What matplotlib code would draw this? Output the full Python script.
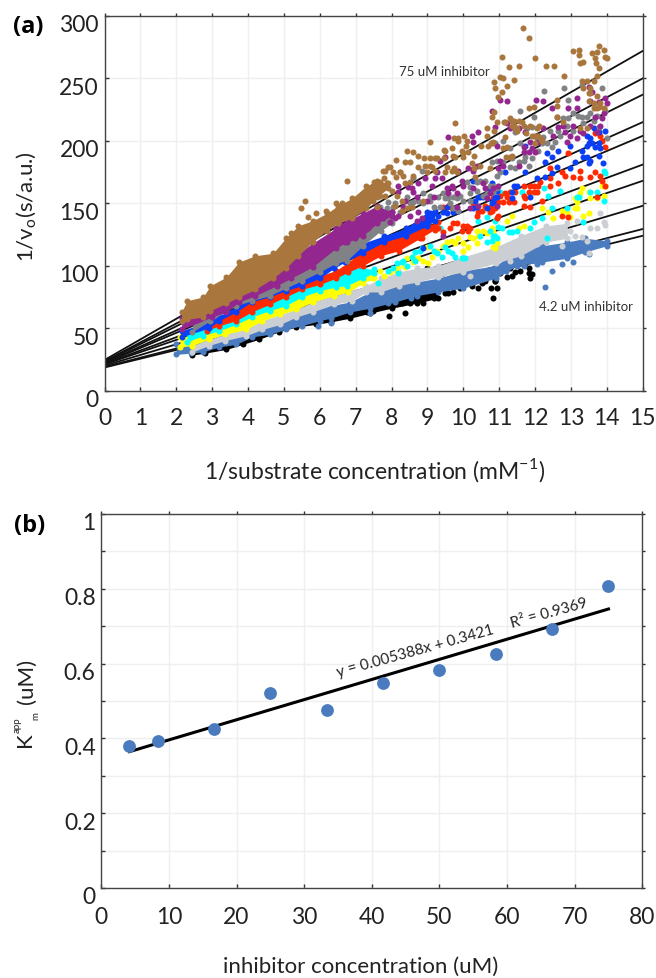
import matplotlib
matplotlib.use('Agg')
import matplotlib.pyplot as plt
from matplotlib.transforms import ScaledTranslation

plt.rcParams['font.family'] = ['Lato', 'DejaVu Sans']
plt.rcParams['mathtext.fontset'] = 'custom'
plt.rcParams['mathtext.rm'] = 'Lato'

# fit lines panel (a), value at x=0 and x=15, lowest inhibitor first
line_start = [18.5, 19, 20, 21, 21.5, 22, 22.5, 23, 23.5, 24.5]
line_end = [124, 129.4, 148, 168, 181, 204, 215, 237, 250, 272]

# each series: dense part (band) and the loose points
black_band_x = [2.45, 2.8, 3.4, 3.85, 4.3, 4.85, 5.35, 5.9, 6.3, 6.85, 7.4, 8, 8.7, 9.3]
black_band_lo = [28.5, 30, 33, 37, 41, 47, 51, 53, 55, 58, 62, 66, 70, 74]
black_band_hi = [33, 34, 37, 42, 46, 52, 56, 60, 62, 68, 72, 76, 82, 86]
black_x = [7.94, 8.38, 8.28, 8.51, 8.72, 8.89, 9.17, 9.58, 9.49, 9.72, 9.91, 10.23, 10.42, 10.51, 10.6, 10.84, 10.76, 10.93,
           10.88, 8.47, 8.98, 9.44, 7.49, 7.31, 7.12, 6.89, 6.66, 7.63, 7.86, 10.89, 11.21, 11.35, 11.12, 11.82, 11.91, 11.82,
           11.86, 11.72, 11.59, 11.45, 11.31, 10.8, 11.03, 10.98, 11.86, 10.3, 10.15, 9.8]
black_y = [60, 62, 70, 70, 71, 70, 74, 78, 78, 79, 82, 84, 82, 86, 88, 74, 82, 82,
           88, 86, 98, 94, 64, 63, 63, 63, 62, 70, 72, 88, 91, 92, 99, 94, 93, 98,
           106, 102, 96, 95, 98, 92, 94, 99, 90, 92, 90, 94]

sblue_band_x = [2, 2.4, 2.75, 3.2, 3.67, 4.1, 4.6, 5.05, 5.5, 6, 6.3, 6.85, 7.4, 8.1, 8.7, 9.3, 10, 10.9, 11.5, 12.2, 12.9, 13.4, 14]
sblue_band_lo = [29, 30, 31, 35, 37, 43, 45, 49, 52, 56, 58, 63, 66, 71, 76, 79, 82, 90, 100, 103, 106, 111, 116]
sblue_band_hi = [37, 37, 38, 42, 45, 49, 54, 59, 62, 66, 68, 71, 79, 84, 87, 90, 96, 100, 112, 116, 119, 122, 120]
sblue_x = [12.28, 12.47, 12.75, 13.07, 13.49, 11.2, 11.7, 5.95, 6.3, 7.4, 7.9, 8.55, 9.3, 12.05]
sblue_y = [83, 96, 101, 103, 109, 96, 100, 52, 54, 62, 70, 74, 86, 101]

lgray_band_x = [2.45, 2.9, 3.35, 3.95, 4.4, 4.9, 5.35, 5.8, 6.4, 6.9, 7.3, 7.7, 8.2, 8.7, 9.3, 10, 10.9, 11.6, 12.3, 12.9]
lgray_band_lo = [31, 36, 40, 44, 49, 53, 59, 63, 69, 72, 79, 79, 84, 87, 91, 95, 102, 108, 119, 122]
lgray_band_hi = [36, 41, 45, 50, 56, 61, 65, 71, 76, 80, 84, 90, 95, 98, 100, 107, 115, 124, 132, 134]
lgray_x = [13.3, 13.53, 13.82, 13.91, 13.17, 13.44, 13.72, 13.49, 12.98, 4.74, 13.95, 13.1, 10.2, 11.3, 12.75]
lgray_y = [123, 130, 142, 135, 136, 120, 130, 110, 128, 56, 133, 124, 92, 104, 116]

yellow_band_x = [2.1, 2.45, 2.9, 3.35, 3.95, 4.4, 4.9, 5.35, 5.8, 6.4, 6.8, 7.2, 7.5]
yellow_band_lo = [35, 36, 41, 45, 49, 56, 61, 65, 71, 76, 79, 86, 90]
yellow_band_hi = [43, 44, 50, 56, 60, 66, 72, 77, 82, 84, 87, 92, 93]
yellow_x = [13.86, 13.95, 13.91, 13.5, 13.54, 13.72, 13.1, 13.17, 13.1, 13.17, 12.89, 12.75, 12.98, 12.51, 12.19, 12.37, 13.35,
            13.49, 13.26, 13.3, 11.68, 11.54, 11.21, 11.35, 10.89, 10.8, 10.37, 10.56, 10.65, 10.28, 10.37, 10.14, 10, 9.86,
            9.68, 9.54, 9.3, 9.12, 8.89, 9.02, 9.17, 10.93, 10.84, 8.19, 8.42, 7.68, 7.96, 8.98, 7.45, 7.8,
            8.14, 8.38, 8.61, 8.75, 9.26, 9.44, 9.77, 10, 10.19, 10.42, 10.84, 8.61]
yellow_y = [164, 164, 156, 159, 154, 154, 154, 151, 146, 146, 143, 144, 139, 138, 146, 143, 140,
            142, 158, 162, 132, 130, 136, 140, 114, 130, 128, 128, 126, 122, 118, 115, 112, 122,
            120, 119, 111, 107, 104, 102, 112, 118, 115, 99, 106, 96, 95, 115, 90, 92,
            95, 99, 103, 106, 112, 116, 118, 118, 123, 124, 127, 107]

cyan_band_x = [2.3, 2.75, 3.2, 3.67, 4.1, 4.6, 5.05, 5.5, 6, 6.45, 6.75, 7.2, 7.5]
cyan_band_lo = [39, 44, 48, 53, 59, 64, 68, 75, 80, 83, 84, 90, 94]
cyan_band_hi = [46, 52, 56, 63, 71, 76, 81, 85, 92, 96, 98, 98, 97]
cyan_x = [13.91, 13.95, 13.91, 13.72, 13.54, 13.17, 13.23, 12.9, 12.47, 11.03, 11.63, 11.96, 12.19, 13.35, 12.37, 11.86, 11.49,
          11.35, 11.26, 11.07, 10.98, 10.8, 10.89, 12.7, 12.24, 12.33, 7.63, 8.19, 7.91, 8.42, 8.65, 8.79, 8.56, 8.28, 9.4,
          9.58, 9.77, 9.95, 10.05, 10.42, 10.65, 10.88, 10.84, 10.65, 10.93, 9.35, 8.65, 9.17, 8.14,
          8.05, 8.33, 8.84, 9.07, 9.26, 9.49, 9.68, 10.46, 10.75]
cyan_y = [176, 174, 152, 159, 159, 155, 155, 146, 146, 159, 159, 135, 138, 135, 156, 130, 128,
          127, 127, 130, 131, 120, 124, 160, 162, 122, 86, 94, 96, 100, 111, 112, 107, 103, 107,
          112, 107, 106, 106, 136, 139, 136, 124, 119, 122, 130, 104, 112, 102,
          98, 104, 114, 116, 110, 115, 110, 124, 128]

red_band_x = [2.85, 3.2, 3.67, 4.1, 4.6, 5.05, 5.5, 6, 6.45, 6.8, 7.2, 7.7, 8.2, 8.8, 9.2]
red_band_lo = [48, 52, 56, 63, 69, 75, 81, 85, 90, 95, 100, 108, 112, 122, 129]
red_band_hi = [52, 57, 64, 72, 76, 81, 85, 92, 96, 103, 112, 120, 123, 130, 132]
red_x = [13.95, 13.86, 13.68, 13.82, 12.93, 12.42, 12.75, 12.84, 13.26, 13.07, 13.68, 13.82, 13.86, 13.54, 13.26, 12.65, 12.42,
         12.14, 11.96, 11.82, 12.05, 11.72, 12.19, 11.86, 11.68, 11.45, 11.17, 11.03, 11.12, 11.26, 10.98, 10.8, 13.95, 13.72,
         12.75, 12.93, 9.44, 9.68, 10, 9.82, 9.63, 9.3, 9, 10.19, 10.37, 10.75, 10.84, 10.6, 10.93, 10.28, 9.44,
         9.58, 9.3, 9.12, 8.84, 9.72, 9.95, 10.09, 10.14, 10.51, 10.75, 10.42, 10.93,
         11.31, 11.68, 11.96, 12.09, 12.42, 11.21, 10.89, 10.98, 11.4, 11.86, 11.68]
red_y = [195, 200, 206, 204, 190, 178, 175, 172, 176, 171, 175, 172, 168, 171, 170, 166, 170,
         167, 164, 159, 159, 154, 152, 147, 148, 159, 158, 156, 151, 151, 140, 144, 164, 155,
         140, 139, 147, 146, 132, 134, 130, 130, 130, 130, 140, 143, 154, 148, 138, 150, 127,
         148, 135, 131, 122, 134, 128, 132, 128, 144, 147, 143, 151,
         159, 164, 159, 164, 164, 155, 146, 151, 151, 164, 156]

blue_band_x = [2.15, 2.9, 3.2, 3.67, 4.1, 4.6, 5.05, 5.5, 6, 6.4, 6.7, 7.2, 7.8, 8.4, 9, 9.2]
blue_band_lo = [43, 50, 56, 63, 71, 75, 80, 84, 90, 98, 103, 110, 119, 124, 132, 136]
blue_band_hi = [48, 55, 60, 67, 75, 79, 85, 89, 96, 106, 118, 118, 124, 130, 143, 144]
blue_x = [11.72, 12.33, 12.65, 12.98, 13.32, 13.35, 13.44, 13.54, 13.49, 13.58, 13.68, 13.77, 13.82, 13.96, 13.77, 13.63, 13.44,
          13.54, 13.77, 13.88, 13.49, 13.12, 12.98, 12.61, 12.47, 12.28, 12.05, 11.72, 11.49, 11.17, 11.35, 11.35, 11.86, 10.89,
          10.8, 10.56, 10.84, 10.37, 10.33, 9.72, 9.54, 9.3, 9.17, 8.89, 10.28, 10.7,
          10.8, 10.93, 10.84, 11.4, 12.28, 12.47, 13.44, 10.46, 10.65, 10.28, 9.86, 9.54, 9.44, 9.07, 8.84, 10.42, 10.93]
blue_y = [196, 190, 192, 196, 192, 187, 204, 202, 198, 198, 195, 198, 194, 208, 207, 210, 187,
          184, 188, 182, 182, 183, 178, 179, 174, 171, 170, 175, 164, 175, 159, 154, 155, 155,
          150, 155, 151, 147, 152, 143, 142, 140, 142, 114, 168, 160,
          166, 160, 152, 164, 183, 187, 196, 155, 146, 146, 144, 147, 143, 142, 135, 155, 155]

gray_band_x = [2.45, 2.95, 3.67, 4.1, 4.6, 5.05, 5.5, 6, 6.45, 6.75, 7.2, 7.7, 8]
gray_band_lo = [47, 56, 68, 72, 76, 82, 88, 95, 102, 104, 116, 128, 134]
gray_band_hi = [58, 64, 82, 88, 92, 100, 106, 116, 122, 126, 134, 142, 139]
gray_x = [12.25, 12.82, 12.93, 13.3, 11.58, 11.96, 13.07, 13.3, 13.35, 12.89, 12.42, 12.23, 11.91, 11.45, 11.12, 10.89, 12.7,
          13.07, 13.77, 14, 13.95, 12.47, 12.09, 11.35, 11.68, 10.93, 11.82, 10.8, 11.31, 11.03, 11.54, 10.93, 11.91, 12.93,
          13.53, 13.86, 8.6, 8.84, 9.44, 9.58, 9.72, 9.9, 10.19, 10.46, 10.6, 10.84, 10.93, 10.37, 9.07, 8.89, 8.75, 8.6,
          8.42, 8.05, 7.91, 7.72, 7.54, 7.31, 7.12, 6.84, 6.56, 6.42, 7.12, 9.35, 9.72, 10.19, 10.56,
          9.49, 9.63, 9.82, 10, 9.86, 10.19, 10.75, 10.65, 10.84, 7.68, 7.86, 8.1, 8.24, 8.51, 8.89, 9.17, 7.82, 9.07, 9.3,
          10.09, 10.37, 11.77, 12.05, 12.33, 12.56, 12.79, 13.2, 13.44, 13.63, 13.72, 12.65, 11.59, 11.31, 11.12, 11.45, 11.72, 12.19]
gray_y = [240, 242, 233, 245, 224, 219, 222, 219, 214, 212, 208, 203, 211, 207, 200, 198, 204,
          208, 211, 202, 224, 195, 192, 186, 184, 184, 180, 183, 179, 175, 183, 172, 186, 218,
          222, 242, 170, 176, 158, 154, 155, 156, 152, 168, 168, 164, 162, 160, 156, 158, 152, 151,
          155, 147, 151, 139, 135, 132, 127, 116, 110, 103, 118, 147, 146, 158, 156,
          154, 150, 154, 152, 144, 163, 164, 158, 159, 147, 146, 150, 143, 150, 150, 147, 138, 152, 155,
          167, 167, 210, 202, 198, 199, 218, 220, 219, 216, 220, 208, 198, 194, 183, 178, 187, 198]

purple_band_x = [2.15, 3, 3.4, 3.75, 4.2, 4.8, 5.2, 5.8, 6.45, 6.75, 7.2, 7.6, 8]
purple_band_lo = [49, 59, 63, 71, 76, 84, 90, 99, 114, 119, 124, 134, 140]
purple_band_hi = [58, 70, 76, 84, 90, 100, 106, 118, 130, 136, 142, 148, 143]
purple_x = [11.03, 11.23, 10.8, 12.02, 12.21, 12.47, 13.17, 13.17, 13.95, 14, 13.58, 13.49, 13.53, 13.91, 12.93, 10.89, 11.21,
            12.23, 11.72, 12.79, 12.98, 13.26, 13.54, 13.82, 12.5, 12.89, 11.68, 11.91, 11.82, 12.09, 11.03, 11.12, 10.98, 11.54,
            10.93, 13.17, 13.86, 13.72, 9.58, 10.28, 10.42, 10.23, 9.26, 9.21, 8.93, 8.75, 8.56, 8.19, 8.7, 9.12, 9.49, 9.35,
            9.72, 9.82, 10.28, 10.6, 10.19, 10.65, 9.86, 10.28, 10.37, 8.38, 8.19, 7.96, 8.33, 8.75, 8.84, 7.54, 6.98, 6.84,
            6.56, 6.42, 6.7, 9.44, 7.21, 9.82, 7.72, 7.35, 10.84, 10.98,
            8.19, 8, 8.1, 8.51, 8.7, 8.98, 9.17, 9.54, 9.58, 7.77, 7.12, 6.66, 9.4, 9.68, 10, 10.14, 10.56, 9.96, 10.75, 10.93,
            10.42, 8.61, 8.47, 11.31, 11.54, 11.86, 11.68, 12, 12.65, 12.84, 13.07, 13.68, 13.77, 13.35]
purple_y = [233, 232, 224, 233, 232, 226, 234, 226, 234, 230, 239, 243, 232, 222, 226, 211, 214,
            210, 207, 212, 204, 208, 212, 212, 204, 199, 195, 194, 191, 199, 184, 180, 178, 180,
            196, 202, 218, 207, 203, 199, 207, 204, 175, 170, 170, 166, 162, 164, 155, 164, 187, 184,
            162, 158, 162, 162, 146, 154, 176, 176, 180, 152, 140, 135, 147, 143, 138, 139, 122, 122,
            134, 127, 119, 124, 127, 147, 143, 130, 162, 164,
            159, 143, 138, 140, 136, 152, 155, 162, 158, 138, 130, 127, 170, 164, 164, 178, 166, 168, 158, 148,
            148, 159, 163, 210, 210, 199, 191, 191, 211, 207, 212, 219, 231, 206]

brown_band_x = [2.15, 2.3, 2.75, 2.95, 3.4, 3.75, 4.2, 4.7, 5.05, 5.4, 5.8, 6.2, 6.5, 6.9, 7.3, 7.6, 7.9]
brown_band_lo = [56, 57, 59, 64, 70, 75, 81, 90, 98, 108, 119, 128, 134, 138, 146, 155, 162]
brown_band_hi = [63, 72, 75, 84, 91, 103, 108, 110, 122, 132, 136, 142, 148, 154, 164, 168, 166]
brown_x = [11.65, 11.82, 11.07, 12, 11.54, 11.28, 12.3, 12.53, 12.81, 13.07, 13.23, 13.23, 13.58, 13.74, 13.79, 13.91, 13.96,
           14, 13.68, 13.7, 13.77, 13.26, 13.35, 13.72, 13.63, 13.44, 13.3, 13.54, 13.49, 13.72, 13.63, 13.72, 13.91, 12.61,
           11.96, 11.82, 11.31, 11.17, 11.4, 11.49, 11.68, 11.96, 12.14, 11.86, 12.61, 12.79, 13.44, 13.26, 11.03, 11.12,
           10.86, 10.89, 11.21, 11.4, 11.07, 10.98, 11.17, 11.31, 11.21, 11.12, 10.8,
           6.75, 9.78, 9.06, 8.42, 8.6, 8.73, 8.13, 7.97, 8.38, 8.52, 8.73, 8.9, 9.2, 9.46, 9.74, 10.02, 9.85, 10.08, 10.5,
           10.78, 10.3, 9.98, 9.7, 9.45, 9.08, 8.98, 8.6, 8.24, 7.82, 7.78, 7.5, 8.13, 8.38, 9.74, 10.25, 10.3,
           10.85, 10.8, 11.13, 10.95, 10.66, 10.85, 11.35, 11.63, 11.4, 11.5, 11.75, 12.05, 12.2, 12.1, 12.6, 12.6,
           11.35, 11.2, 5.59, 5.48, 5.67, 5.9, 6.18, 6.45, 5.2,
           7.77, 7.91, 8.05, 8.24, 8.33, 7.68, 7.49, 7.4, 7.86, 8, 8.14, 8.28, 8.42, 8.51, 7.68, 7.82, 7.49, 7.31, 7.59, 7.21,
           7.07, 6.93, 6.84, 6.61, 8.1, 8.56, 8.28, 8.89, 9.49, 9.68, 9.96, 9.86, 10.09, 9.77, 10, 10.14, 9.68, 9.82, 9.54,
           8.93, 9.12, 9.21, 9.49, 9.07, 9.26, 10.7, 10.65, 10.84, 10.46, 10.75, 10.33,
           11.35, 11.45, 11.54, 12.05, 11.91, 12.09, 12.19, 12, 13.49, 13.77, 13.63, 13.82, 13.35, 13.54]
brown_y = [290, 282, 267, 266, 260, 259, 260, 260, 252, 272, 273, 269, 270, 271, 276, 273, 267,
           266, 266, 262, 258, 262, 263, 252, 248, 248, 248, 242, 238, 236, 230, 226, 226, 233,
           227, 226, 218, 215, 212, 210, 212, 204, 202, 212, 219, 215, 210, 210, 251, 250,
           247, 242, 244, 249, 239, 235, 203, 187, 195, 194, 198,
           168, 214, 199, 192, 191, 188, 185, 179, 183, 183, 179, 186, 186, 193, 202, 204, 200, 196, 196,
           198, 188, 190, 188, 186, 180, 175, 172, 175, 176, 170, 167, 171, 166, 178, 182, 178,
           223, 219, 215, 215, 210, 208, 212, 215, 216, 208, 206, 204, 200, 212, 228, 219,
           188, 187, 152, 146, 139, 142, 144, 150, 126,
           176, 179, 175, 175, 172, 167, 164, 159, 166, 160, 156, 152, 146, 167, 156, 156, 152, 152, 147, 147,
           146, 150, 143, 150, 148, 147, 144, 152, 192, 194, 192, 202, 200, 187, 187, 191, 176, 175, 179,
           180, 179, 176, 175, 186, 186, 196, 204, 199, 180, 178, 171,
           216, 210, 216, 210, 204, 204, 200, 198, 232, 227, 226, 230, 242, 238]

# panel (b)
inhibitor = [4.17, 8.33, 16.67, 25, 33.33, 41.67, 50, 58.33, 66.67, 75]
km_app = [0.38, 0.393, 0.425, 0.522, 0.475, 0.549, 0.584, 0.625, 0.692, 0.808]
fit_x = [4.17, 75]
fit_y = [0.3646, 0.746]

W, H = 656, 979
fig = plt.figure(figsize=(W / 100, H / 100), dpi=100)
ax1 = fig.add_axes([104.5 / W, 1 - 391.6 / H, 538.2 / W, 374.6 / H])
ax2 = fig.add_axes([101.3 / W, 1 - 889 / H, 541 / W, 374 / H])


def frame(ax, xt, yt, ylabels, x_pad):
    # ticks point in on left and bottom, out on top and right
    ax.set_xticks(xt)
    ax.set_yticks(yt)
    ax.set_yticklabels(ylabels)
    ax.grid(True, color='#efefef', lw=1)
    ax.set_axisbelow(True)
    ax.tick_params(axis='x', direction='in', length=3, width=1, color='#333333', labelsize=16.5, pad=x_pad, labelcolor='#222222')
    ax.tick_params(axis='y', direction='in', length=3, width=1, color='#333333', labelsize=16.5, pad=4, labelcolor='#222222')
    for s in ax.spines.values():
        s.set_color('#444444')
        s.set_linewidth(1)
    top = ax.secondary_xaxis('top')
    top.set_xticks(xt)
    top.tick_params(direction='out', length=2.5, width=1, color='#333333', labeltop=False)
    right = ax.secondary_yaxis('right')
    right.set_yticks(yt)
    right.tick_params(direction='out', length=2.5, width=1, color='#333333', labelright=False)
    for s in list(top.spines.values()) + list(right.spines.values()):
        s.set_visible(False)
    shift = ScaledTranslation(0, -5 / 72, fig.dpi_scale_trans)
    for lab in ax.get_yticklabels():
        lab.set_transform(lab.get_transform() + shift)


def cloud(ax, band_x, band_lo, band_hi, xs, ys, color, z):
    ax.fill_between(band_x, band_lo, band_hi, color=color, lw=0, zorder=z)
    ax.scatter(band_x, band_lo, s=19, color=color, lw=0, zorder=z)
    ax.scatter(band_x, band_hi, s=19, color=color, lw=0, zorder=z)
    ax.scatter(xs, ys, s=19, color=color, lw=0, zorder=z)


# panel (a)
for a, b in zip(line_start, line_end):
    ax1.plot([0, 15], [a, b], color='#111111', lw=1.3, zorder=2)

cloud(ax1, black_band_x, black_band_lo, black_band_hi, black_x, black_y, 'black', 3)
cloud(ax1, sblue_band_x, sblue_band_lo, sblue_band_hi, sblue_x, sblue_y, '#4a7cbf', 4)
cloud(ax1, lgray_band_x, lgray_band_lo, lgray_band_hi, lgray_x, lgray_y, '#cbced2', 5)
cloud(ax1, yellow_band_x, yellow_band_lo, yellow_band_hi, yellow_x, yellow_y, '#ffff00', 6)
cloud(ax1, cyan_band_x, cyan_band_lo, cyan_band_hi, cyan_x, cyan_y, '#00ffff', 7)
cloud(ax1, red_band_x, red_band_lo, red_band_hi, red_x, red_y, '#ff2a00', 8)
cloud(ax1, blue_band_x, blue_band_lo, blue_band_hi, blue_x, blue_y, '#0a3ff5', 9)
cloud(ax1, gray_band_x, gray_band_lo, gray_band_hi, gray_x, gray_y, '#808285', 10)
cloud(ax1, purple_band_x, purple_band_lo, purple_band_hi, purple_x, purple_y, '#93268f', 11)
cloud(ax1, brown_band_x, brown_band_lo, brown_band_hi, brown_x, brown_y, '#a9773e', 12)

ax1.set_xlim(0, 15)
ax1.set_ylim(0, 300)
frame(ax1, list(range(16)), [0, 50, 100, 150, 200, 250, 300], ['0', '50', '100', '150', '200', '250', '300'], 12)
ax1.text(8.22, 256, '75 uM inhibitor', fontsize=9.5, color='#333333', va='center', zorder=20)
ax1.text(12.1, 68, '4.2 uM inhibitor', fontsize=9.5, color='#333333', va='center', zorder=20)

# panel (b)
ax2.plot(fit_x, fit_y, color='black', lw=2.2, zorder=3)
ax2.scatter(inhibitor, km_app, s=85, color='#4a7bbf', lw=0, zorder=4)
ax2.set_xlim(0, 80)
ax2.set_ylim(0, 1)
frame(ax2, list(range(0, 90, 10)), [0, 0.1, 0.2, 0.3, 0.4, 0.5, 0.6, 0.7, 0.8, 0.9, 1],
      ['0', '', '0.2', '', '0.4', '', '0.6', '', '0.8', '', '1'], 13)
ax2.text(35, 0.566, 'y = 0.005388x + 0.3421', fontsize=11, rotation=15.5, rotation_mode='anchor', color='#222222', zorder=6)
ax2.text(60.8, 0.697, 'R² = 0.9369', fontsize=11, rotation=15.5, rotation_mode='anchor', color='#222222', zorder=6)


def px_text(x, y, s, **kw):
    fig.text(x / W, 1 - y / H, s, ha='center', va='center', color=kw.pop('color', '#222222'), **kw)


px_text(375, 470, '1/substrate concentration (mM$^{\\mathrm{-1}}$)', fontsize=16.5)
px_text(361, 967, 'inhibitor concentration (uM)', fontsize=16)
px_text(27, 207, '1/v$_{\\mathrm{o}}$(s/a.u.)', fontsize=16, rotation=90)
px_text(27, 681, '(uM)', fontsize=16, rotation=90)
px_text(25, 740, 'K', fontsize=16, rotation=90)
px_text(17, 725, 'app', fontsize=7, rotation=90)
px_text(36, 716, 'm', fontsize=7, rotation=90)
px_text(28, 27, '(a)', fontsize=17, fontweight='bold', family='Open Sans', color='black')
px_text(30, 526, '(b)', fontsize=17, fontweight='bold', family='Open Sans', color='black')

plt.savefig('out.png', dpi=100)
